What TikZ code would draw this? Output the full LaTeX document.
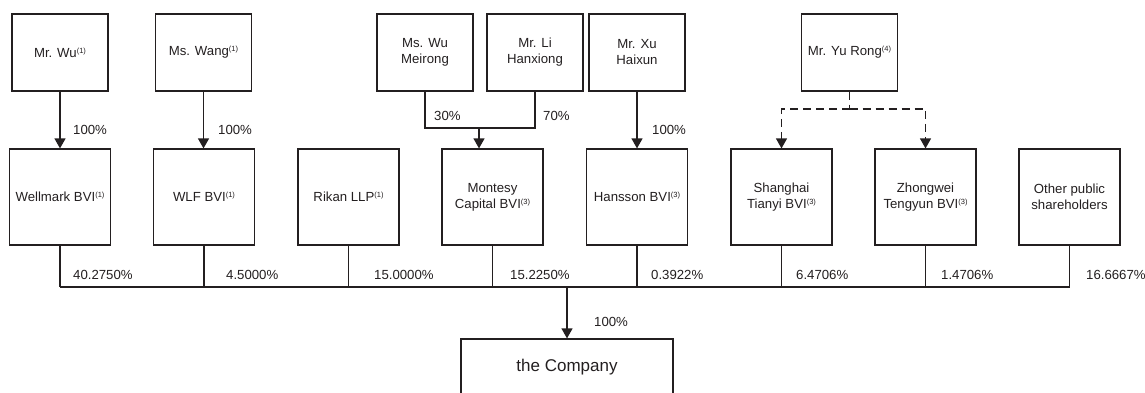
\documentclass[tikz,border=0pt]{standalone}
\usepackage{fontspec}
\setmainfont{Liberation Sans}
\usepackage{xcolor}
\usetikzlibrary{arrows.meta}
\definecolor{ink}{RGB}{35,31,32}
\newcommand{\fnote}[1]{\raisebox{4pt}{\fontsize{7.5}{8}\selectfont(#1)}}

\begin{document}
\begin{tikzpicture}[x=1pt,y=-1pt,
  every node/.style={font=\fontsize{13.2}{16}\selectfont,text=ink},
  owner/.style={draw=ink,line width=1.2pt,minimum width=96pt,minimum height=77pt,align=center,inner sep=0pt},
  holder/.style={owner,minimum width=101pt,minimum height=96pt},
  pct/.style={anchor=west,inner sep=0pt},
  link/.style={draw=ink,line width=1.2pt},
  tip/.style={link,-{Triangle[width=11pt,length=10pt]}},
  maybe/.style={dash pattern=on 8pt off 5pt}]
\useasboundingbox (0,0) rectangle (1145,393);
\node[owner] (wu) at (60,52.5) {Mr. Wu\fnote{1}};
\node[owner] (wang) at (203.5,52.5) {Ms. Wang\fnote{1}};
\node[owner] (mswu) at (425,52.5) {Ms. Wu\\Meirong};
\node[owner] (li) at (535,52.5) {Mr. Li\\Hanxiong};
\node[owner] (xu) at (637,52.5) {Mr. Xu\\Haixun};
\node[owner] (yu) at (849.5,52.5) {Mr. Yu Rong\fnote{4}};
\node[holder] (wellmark) at (60,197) {Wellmark BVI\fnote{1}};
\node[holder] (wlf) at (204,197) {WLF BVI\fnote{1}};
\node[holder] (rikan) at (348.5,197) {Rikan LLP\fnote{1}};
\node[holder] (montesy) at (492.5,197) {Montesy\\Capital BVI\fnote{3}};
\node[holder] (hansson) at (637,197) {Hansson BVI\fnote{3}};
\node[holder] (shanghai) at (781.5,197) {Shanghai\\Tianyi BVI\fnote{3}};
\node[holder] (zhongwei) at (925.5,197) {Zhongwei\\Tengyun BVI\fnote{3}};
\node[holder] (other) at (1069.5,197) {Other public\\shareholders};
\node[holder,minimum width=212pt,minimum height=56pt,font=\fontsize{17}{20}\selectfont] (company) at (567,367) {the Company};
\coordinate (mj) at (479,128);
\coordinate (yj) at (849.5,109);
\coordinate (busl) at (60,287);
\coordinate (busr) at (1069.5,287);
\coordinate (cj) at (567,287);
\draw[tip] (wu.south) -- (wu.south |- wellmark.north);
\draw[tip] (wang.south) -- (wang.south |- wlf.north);
\draw[link] (mswu.south) |- (li.south |- mj) -- (li.south);
\draw[tip] (mj) -- (mj |- montesy.north);
\draw[tip] (xu.south) -- (xu.south |- hansson.north);
\draw[link,maybe] (yu.south) -- (yj);
\draw[tip,maybe] (yj) -| (shanghai.north);
\draw[tip,maybe] (yj) -| (zhongwei.north);
\foreach \n in {wellmark,wlf,rikan,montesy,hansson,shanghai,zhongwei,other}
  \draw[link] (\n.south) -- (\n.south |- busl);
\draw[link] (busl) -- (busr);
\draw[tip] (cj) -- (company.north);
\node[pct] (pwu) at (73,130) {100\%};
\node[pct] (pwang) at (218,130) {100\%};
\node[pct] (pmswu) at (434,116) {30\%};
\node[pct] (pli) at (543,116) {70\%};
\node[pct] (pxu) at (652,130) {100\%};
\node[pct] (pwellmark) at (73,275) {40.2750\%};
\node[pct] (pwlf) at (226,275) {4.5000\%};
\node[pct] (prikan) at (374,275) {15.0000\%};
\node[pct] (pmontesy) at (510,275) {15.2250\%};
\node[pct] (phansson) at (651,275) {0.3922\%};
\node[pct] (pshanghai) at (796,275) {6.4706\%};
\node[pct] (pzhongwei) at (941,275) {1.4706\%};
\node[pct] (pother) at (1086,275) {16.6667\%};
\node[pct] (pcompany) at (594,322) {100\%};
\end{tikzpicture}
\end{document}
